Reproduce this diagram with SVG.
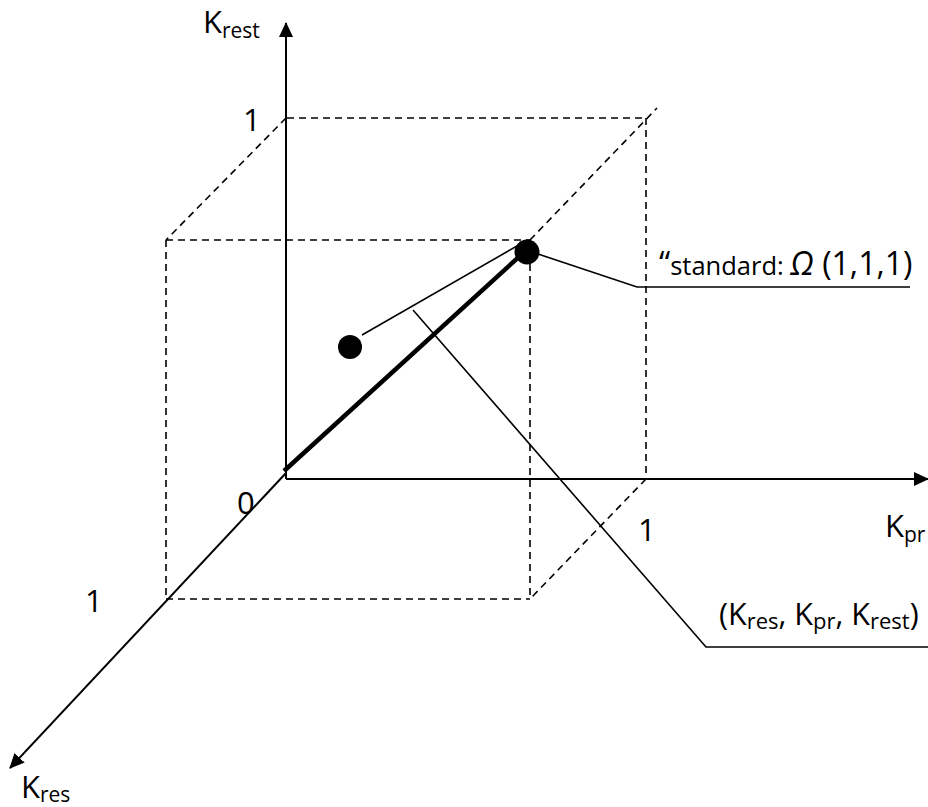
<svg xmlns="http://www.w3.org/2000/svg" width="928" height="807" viewBox="0 0 928 807">
<style>
.ax{stroke:#000;stroke-width:2;fill:none}
.ds{stroke:#000;stroke-width:1.6;fill:none;stroke-dasharray:7 5}
.th{stroke:#000;stroke-width:1.6;fill:none}
.t{font-family:"Open Sans","Liberation Sans",sans-serif;fill:#000}
</style>
<defs>
<marker id="ar" viewBox="0 0 15 14" refX="14" refY="7" markerWidth="15" markerHeight="14" markerUnits="userSpaceOnUse" orient="auto">
<path d="M0,0 L15,7 L0,14 Z" fill="#000"/>
</marker>
</defs>
<rect width="928" height="807" fill="#fff"/>
<g id="cube">
<line class="ds" x1="287" y1="118" x2="646" y2="118"/>
<line class="ds" x1="646" y1="118" x2="646" y2="479"/>
<line class="ds" x1="166" y1="240" x2="530" y2="240"/>
<line class="ds" x1="166" y1="240" x2="166" y2="599"/>
<line class="ds" x1="166" y1="599" x2="530" y2="599"/>
<line class="ds" x1="530" y1="240" x2="530" y2="599"/>
<line class="ds" x1="286" y1="118" x2="166" y2="240"/>
<line class="ds" x1="530" y1="240" x2="657" y2="108"/>
<line class="ds" x1="646" y1="479" x2="530" y2="599"/>
</g>
<g id="connectors">
<line class="ax" x1="286" y1="479" x2="286" y2="23" marker-end="url(#ar)"/>
<line class="ax" x1="286" y1="479" x2="928" y2="479" marker-end="url(#ar)"/>
<line class="ax" x1="286" y1="473" x2="10" y2="768" marker-end="url(#ar)"/>
<line stroke="#000" stroke-width="4.5" x1="284" y1="471" x2="522" y2="254"/>
<line class="th" x1="362" y1="335" x2="517" y2="246"/>
<polyline class="th" points="538,254 637,287 910,287"/>
<polyline class="th" points="413,310 706,647 928,647"/>
</g>
<g id="omega">
<circle cx="527" cy="252" r="12.5" fill="#000"/>
</g>
<g id="point">
<circle cx="350" cy="347" r="12" fill="#000"/>
</g>
<g id="labels">
<text class="t" x="203" y="33" font-size="31">K<tspan font-size="21" dy="5">rest</tspan></text>
<text class="t" x="243" y="131" font-size="31">1</text>
<text class="t" x="237" y="514" font-size="31">0</text>
<text class="t" x="638" y="541" font-size="31">1</text>
<text class="t" x="85" y="612" font-size="31">1</text>
<text class="t" x="885" y="537" font-size="31">K<tspan font-size="21" dy="5">pr</tspan></text>
<text class="t" x="21" y="798" font-size="31">K<tspan font-size="21" dy="4">res</tspan></text>
<text class="t" x="659" y="275"><tspan font-size="32">“</tspan><tspan font-size="25.5">standard: </tspan><tspan font-size="32" font-style="italic">Ω</tspan><tspan font-size="32"> (1,1,1)</tspan></text>
<text class="t" x="719" y="625" font-size="30.5">(K<tspan font-size="22" dy="4">res</tspan><tspan dy="-4">, K</tspan><tspan font-size="22" dy="4">pr</tspan><tspan dy="-4">, K</tspan><tspan font-size="22" dy="4">rest</tspan><tspan dy="-4">)</tspan></text>
</g>
</svg>
